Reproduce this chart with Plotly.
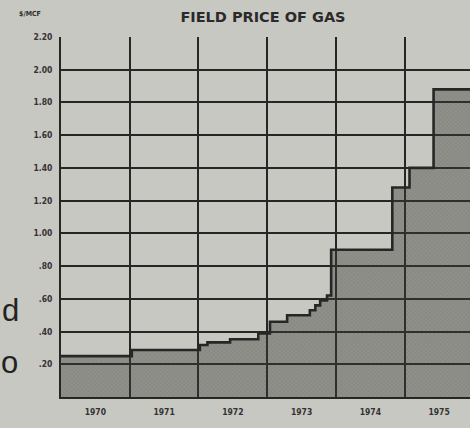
import plotly.graph_objects as go

# Step-change dates (fractional years) and field price of gas ($/MCF)
dates = [1970.00, 1971.03, 1972.02, 1972.13, 1972.46, 1972.87, 1973.04, 1973.29,
         1973.62, 1973.70, 1973.77, 1973.87, 1973.93, 1974.82, 1975.07, 1975.42, 1975.95]
prices = [0.25, 0.287, 0.318, 0.334, 0.353, 0.389, 0.46, 0.50,
          0.53, 0.56, 0.59, 0.62, 0.90, 1.28, 1.40, 1.88, 1.88]

year_labels = ["1970", "1971", "1972", "1973", "1974", "1975"]
year_pos = [1970.5, 1971.5, 1972.5, 1973.5, 1974.5, 1975.5]
year_bounds = [1971, 1972, 1973, 1974, 1975]
y_vals = [0.2, 0.4, 0.6, 0.8, 1.0, 1.2, 1.4, 1.6, 1.8, 2.0, 2.2]
y_labels = [".20", ".40", ".60", ".80", "1.00", "1.20", "1.40", "1.60", "1.80", "2.00", "2.20"]

paper = "#c8c8c2"
ink = "#262626"

fig = go.Figure()
fig.add_trace(go.Scatter(
    x=dates, y=prices, mode="lines", line=dict(shape="hv", color=ink, width=2.6),
    fill="tozeroy",
    fillcolor="rgba(55,55,50,0.42)",
    fillpattern=dict(shape="x", size=3, solidity=0.25,
                     bgcolor="rgba(60,60,55,0.40)", fgcolor="rgba(40,40,38,0.35)"),
    hoverinfo="skip", showlegend=False,
))

tick_font = dict(family="DejaVu Sans Condensed, DejaVu Sans, sans-serif", size=8.5,
                 color="#333333", weight="bold")

fig.update_layout(
    width=470, height=428,
    margin=dict(l=61, r=0, t=37, b=31),
    paper_bgcolor=paper, plot_bgcolor=paper,
    font=dict(family="DejaVu Sans Condensed, DejaVu Sans, sans-serif", color="#333", size=8),
    title=dict(text="<b>FIELD PRICE OF GAS</b>", x=(263 - 61) / 409, xanchor="center", xref="paper",
               y=1 - 17 / 428, yanchor="middle",
               font=dict(family="DejaVu Sans, sans-serif", size=14.5, color="#2a2a2a")),
    xaxis=dict(range=[1970, 1975.95], tickvals=year_pos, ticktext=year_labels,
               ticks="", showgrid=False, zeroline=False, showline=True,
               linecolor=ink, linewidth=2, fixedrange=True,
               tickfont=tick_font, ticklabelstandoff=6,
               minor=dict(tickvals=year_bounds, showgrid=True, gridcolor=ink,
                          gridwidth=2, ticks="")),
    yaxis=dict(range=[0, 2.2], tickvals=y_vals, ticktext=y_labels, ticks="",
               showgrid=True, gridcolor=ink, gridwidth=2, zeroline=False,
               showline=True, linecolor=ink, linewidth=2, fixedrange=True,
               tickfont=tick_font, ticklabelstandoff=5),
)

fig.add_annotation(text="<b>$/MCF</b>", xref="paper", yref="paper", x=(43 - 61) / 409,
                   y=(397 - 14) / 360, xanchor="right", yanchor="middle", showarrow=False,
                   font=dict(family="DejaVu Sans Condensed, DejaVu Sans, sans-serif",
                             size=7, color="#2e2e2e"))
fig.add_annotation(text="d", xref="paper", yref="paper", x=-61 / 409, y=(397 - 310) / 360,
                   xanchor="left", yanchor="middle", showarrow=False,
                   font=dict(family="Liberation Sans, Arial, sans-serif", size=31, color="#222222"))
fig.add_annotation(text="o", xref="paper", yref="paper", x=-62 / 409, y=(397 - 362) / 360,
                   xanchor="left", yanchor="middle", showarrow=False,
                   font=dict(family="Liberation Sans, Arial, sans-serif", size=31, color="#222222"))

fig.write_html("out.html", config={"displayModeBar": False, "staticPlot": True},
               post_script="document.body.style.margin='0px';")
